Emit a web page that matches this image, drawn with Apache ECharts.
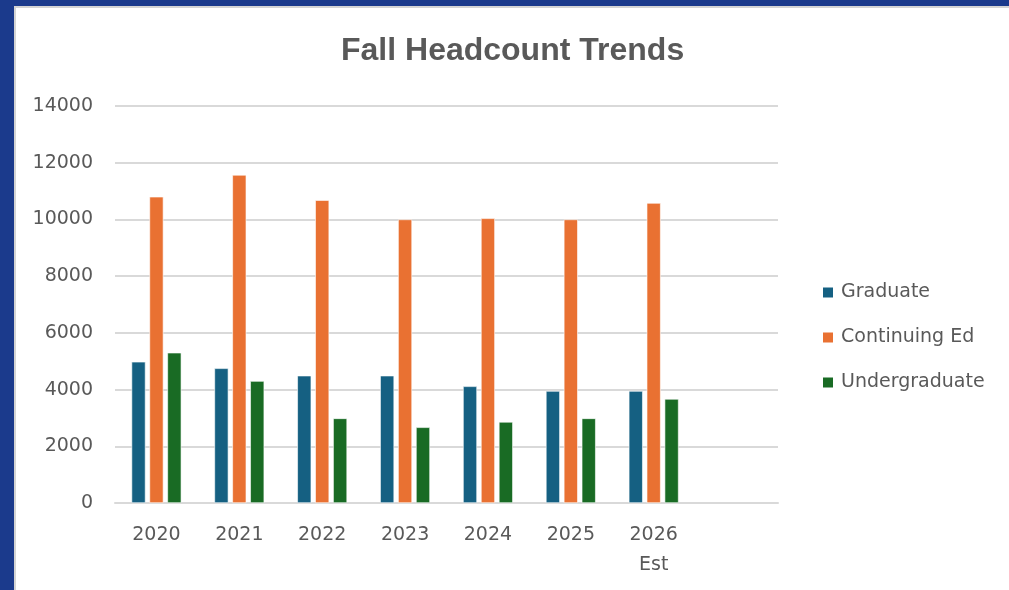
<!DOCTYPE html>
<html>
<head>
<meta charset="utf-8">
<script src="https://cdn.jsdelivr.net/npm/echarts@6/dist/echarts.min.js"></script>
<style>
html,body{margin:0;padding:0;background:#ffffff;}
#chart{width:1009px;height:590px;}
</style>
</head>
<body>
<div id="chart"></div>
<script>
const categories = ['2020', '2021', '2022', '2023', '2024', '2025', '2026\nEst', ''];
const graduate = [4980, 4750, 4490, 4490, 4115, 3950, 3950];
const continuingEd = [10800, 11570, 10680, 10000, 10040, 10000, 10580];
const undergraduate = [5300, 4300, 2985, 2670, 2860, 2985, 3670];
const yTicks = { min: 0, max: 14000, interval: 2000 };

const chart = echarts.init(document.getElementById('chart'), null, { renderer: 'canvas' });
const titleFont = '"Liberation Sans", Arial, sans-serif';
const font = '"DejaVu Sans", sans-serif';
const barCommon = {
  type: 'bar',
  barWidth: 14,
  barGap: '28%',
  itemStyle: { borderColor: '#ffffff', borderWidth: 0.6 }
};
chart.setOption({
  animation: false,
  backgroundColor: '#ffffff',
  title: {
    text: 'Fall Headcount Trends',
    left: 341,
    top: 35,
    padding: 0,
    textStyle: { fontFamily: titleFont, fontSize: 32, fontWeight: 'bold', color: '#595959' }
  },
  graphic: [
    { type: 'rect', shape: { x: 0, y: 0, width: 1009, height: 8 }, style: { fill: '#d4d4d4' }, z: 100 },
    { type: 'rect', shape: { x: 0, y: 0, width: 16, height: 590 }, style: { fill: '#d4d4d4' }, z: 100 },
    { type: 'rect', shape: { x: 0, y: 0, width: 1009, height: 6 }, style: { fill: '#1b3a8c' }, z: 101 },
    { type: 'rect', shape: { x: 0, y: 0, width: 14, height: 590 }, style: { fill: '#1b3a8c' }, z: 101 }
  ],
  legend: {
    orient: 'vertical',
    left: 821,
    top: 283,
    padding: 0,
    itemWidth: 12,
    itemHeight: 12,
    itemGap: 26,
    icon: 'rect',
    textStyle: { fontFamily: font, fontSize: 19, color: '#595959', padding: [0, 0, 0, 2] },
    data: ['Graduate', 'Continuing Ed', 'Undergraduate']
  },
  grid: { left: 115, right: 231, top: 106, bottom: 87, containLabel: false },
  xAxis: {
    type: 'category',
    data: categories,
    axisLine: { show: true, lineStyle: { color: '#d9d9d9', width: 2 } },
    axisTick: { show: false },
    axisLabel: { fontFamily: font, fontSize: 19, color: '#595959', margin: 17, lineHeight: 30, interval: 0 }
  },
  yAxis: {
    type: 'value',
    min: yTicks.min,
    max: yTicks.max,
    interval: yTicks.interval,
    axisLine: { show: false },
    axisTick: { show: false },
    splitLine: { lineStyle: { color: '#d9d9d9', width: 2 } },
    axisLabel: { fontFamily: font, fontSize: 19, color: '#595959', margin: 22, formatter: function (v) { return String(v); } }
  },
  series: [
    Object.assign({}, barCommon, { name: 'Graduate', data: graduate, itemStyle: Object.assign({}, barCommon.itemStyle, { color: '#156082' }) }),
    Object.assign({}, barCommon, { name: 'Continuing Ed', data: continuingEd, itemStyle: Object.assign({}, barCommon.itemStyle, { color: '#e97132' }) }),
    Object.assign({}, barCommon, { name: 'Undergraduate', data: undergraduate, itemStyle: Object.assign({}, barCommon.itemStyle, { color: '#196b24' }) })
  ]
});
</script>
</body>
</html>
